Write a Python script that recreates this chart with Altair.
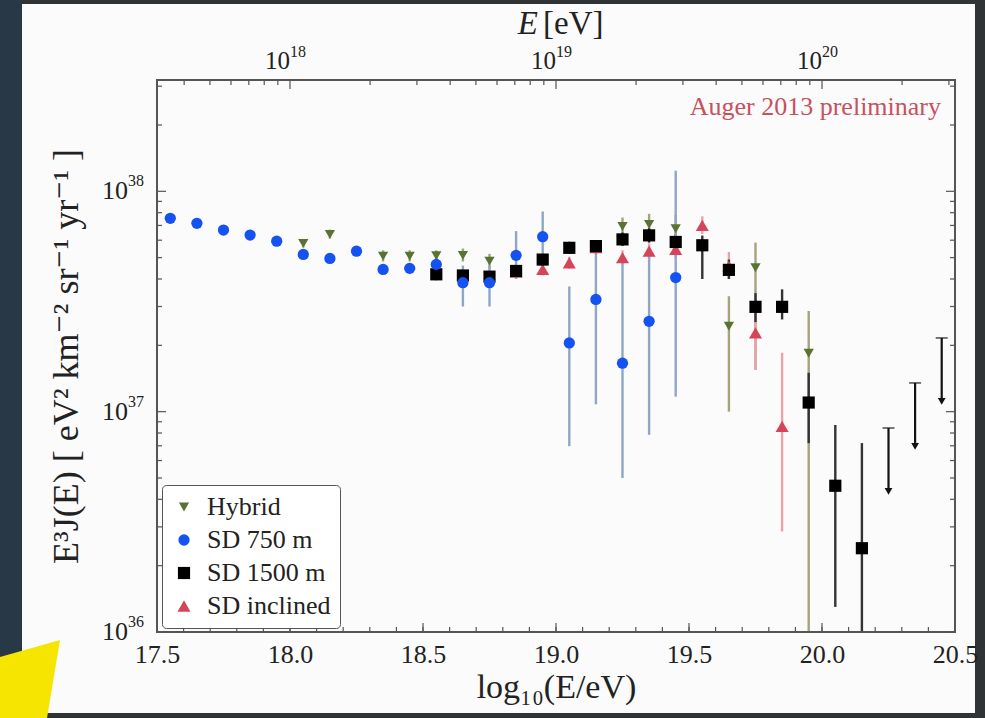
import math
import altair as alt
import pandas as pd

SERIF = "Liberation Serif, DejaVu Serif, serif"
INK = "#222222"

# ---------------- measured spectrum: log10(E/eV), E^3 J(E), lower/upper error bounds
hyb_x = [18.05, 18.15, 18.35, 18.45, 18.55, 18.65, 18.75, 19.25, 19.35, 19.45, 19.65, 19.75, 19.95]
hyb_y = [5.8e37, 6.38e37, 5.08e37, 5.08e37, 5.1e37, 5.12e37, 4.82e37, 6.92e37, 7.08e37, 6.76e37, 2.44e37, 4.5e37, 1.84e37]
hyb_lo = [5.55e37, 6.1e37, 4.8e37, 4.8e37, 4.8e37, 4.8e37, 4.45e37, 6.3e37, 6.4e37, 5.9e37, 1.0e37, 1.55e37, 5e35]
hyb_hi = [6.05e37, 6.7e37, 5.4e37, 5.4e37, 5.4e37, 5.5e37, 5.2e37, 7.6e37, 7.9e37, 7.8e37, 3.34e37, 5.85e37, 2.86e37]

sd750_x = [17.55, 17.65, 17.75, 17.85, 17.95, 18.05, 18.15, 18.25, 18.35, 18.45,
           18.55, 18.65, 18.75, 18.85, 18.95, 19.05, 19.15, 19.25, 19.35, 19.45]
sd750_y = [7.54e37, 7.16e37, 6.67e37, 6.33e37, 5.94e37, 5.17e37, 4.96e37, 5.35e37, 4.42e37, 4.47e37,
           4.66e37, 3.85e37, 3.85e37, 5.12e37, 6.22e37, 2.05e37, 3.23e37, 1.66e37, 2.57e37, 4.06e37]
sd750_lo = [7.35e37, 6.98e37, 6.5e37, 6.15e37, 5.77e37, 5.0e37, 4.78e37, 5.15e37, 4.2e37, 4.25e37,
            4.3e37, 3.0e37, 3.0e37, 4.0e37, 4.8e37, 6.97e36, 1.08e37, 5.0e36, 7.85e36, 1.17e37]
sd750_hi = [7.75e37, 7.35e37, 6.85e37, 6.5e37, 6.12e37, 5.35e37, 5.15e37, 5.55e37, 4.65e37, 4.7e37,
            5.1e37, 4.6e37, 4.6e37, 6.6e37, 8.1e37, 3.7e37, 5.45e37, 4.9e37, 5.4e37, 1.24e38]

sd1500_x = [18.55, 18.65, 18.75, 18.85, 18.95, 19.05, 19.15, 19.25, 19.35, 19.45,
            19.55, 19.65, 19.75, 19.85, 19.95, 20.05, 20.15]
sd1500_y = [4.2e37, 4.15e37, 4.1e37, 4.35e37, 4.9e37, 5.54e37, 5.64e37, 6.05e37, 6.31e37, 5.89e37,
            5.69e37, 4.4e37, 2.99e37, 2.99e37, 1.1e37, 4.61e36, 2.4e36]
sd1500_lo = [3.95e37, 3.9e37, 3.85e37, 4.1e37, 4.6e37, 5.2e37, 5.3e37, 5.65e37, 5.85e37, 5.4e37,
             4.0e37, 4.0e37, 2.55e37, 2.62e37, 7.2e36, 1.3e36, 5e35]
sd1500_hi = [4.45e37, 4.4e37, 4.35e37, 4.6e37, 5.2e37, 5.9e37, 6.0e37, 6.5e37, 6.8e37, 6.4e37,
             6.3e37, 4.9e37, 3.45e37, 3.59e37, 1.5e37, 8.7e36, 7.2e36]

incl_x = [18.85, 18.95, 19.05, 19.15, 19.25, 19.35, 19.45, 19.55, 19.65, 19.75, 19.85]
incl_y = [4.3e37, 4.42e37, 4.74e37, 5.55e37, 5.0e37, 5.35e37, 5.45e37, 7.0e37, 4.57e37, 2.28e37, 8.57e36]
incl_lo = [4.05e37, 4.15e37, 4.45e37, 5.2e37, 4.65e37, 4.95e37, 5.0e37, 6.4e37, 4.0e37, 1.55e37, 2.86e36]
incl_hi = [4.6e37, 4.7e37, 5.05e37, 5.9e37, 5.4e37, 5.8e37, 5.9e37, 7.7e37, 5.3e37, 2.9e37, 1.85e37]

# SD 1500 m upper limits at the highest energies
ul_x = [20.25, 20.35, 20.45]
ul_y = [8.43e36, 1.35e37, 2.16e37]

# ---------------- tick positions and labels
x_major = [17.5, 18.0, 18.5, 19.0, 19.5, 20.0, 20.5]
x_minor = [round(17.5 + 0.1 * i, 1) for i in range(31)]
y_major = [1e36, 1e37, 1e38]
y_exponents = ["36", "37", "38"]
y_minor = [m * 10.0 ** e for e in (36, 37, 38) for m in range(2, 10) if m * 10.0 ** e < 3.2e38]
top_major = [18, 19, 20]
top_exponents = ["18", "19", "20"]
top_minor = [e + math.log10(m) for e in (17, 18, 19, 20) for m in range(2, 10)
             if 17.5 < e + math.log10(m) < 20.5]

# ---------------- styling
series_names = ["Hybrid", "SD 750 m", "SD 1500 m", "SD inclined"]
marker_colors = ["#5a7232", "#1452f2", "#000000", "#d6445a"]
error_colors = ["#a4a37c", "#8fa6c6", "#333333", "#eba2a8"]
marker_shapes = ["triangle-down", "circle", "square", "triangle-up"]
marker_sizes = [105, 170, 155, 105]
ARROW_DROP = 1.94  # length of the upper-limit arrows, as a factor in E^3 J

W, H = 798, 552
MAJ, MIN = 9, 5

xscale = alt.Scale(domain=[17.5, 20.5], nice=False, zero=False)
yscale = alt.Scale(type="log", domain=[1e36, 3.2e38], nice=False)

xaxis = alt.Axis(values=x_major, format=".1f", title="log₁₀(E/eV)", tickSize=0, domain=False,
                 grid=False, labelFont=SERIF, labelFontSize=26, labelColor=INK, labelPadding=9,
                 labelFlush=False, labelOverlap=False,
                 titleFont=SERIF, titleFontSize=34, titleFontWeight="normal", titleColor=INK,
                 titlePadding=3, zindex=2)
yaxis = alt.Axis(values=y_major, labels=False,
                 title="E³J(E)  [ eV² km⁻² sr⁻¹ yr⁻¹ ]", tickSize=0, domain=False, grid=False,
                 titleFont=SERIF, titleFontSize=36, titleFontWeight="normal", titleColor=INK,
                 titlePadding=71, zindex=2)


def X(field):
    return alt.X(field, scale=xscale, axis=xaxis)


def Y(field):
    return alt.Y(field, scale=yscale, axis=yaxis)


def frame(name, xs, ys, lo, hi):
    return pd.DataFrame({"x": xs, "y": ys, "lo": lo, "hi": hi, "series": name})


frames = {
    "Hybrid": frame("Hybrid", hyb_x, hyb_y, hyb_lo, hyb_hi),
    "SD 750 m": frame("SD 750 m", sd750_x, sd750_y, sd750_lo, sd750_hi),
    "SD 1500 m": frame("SD 1500 m", sd1500_x, sd1500_y, sd1500_lo, sd1500_hi),
    "SD inclined": frame("SD inclined", incl_x, incl_y, incl_lo, incl_hi),
}

one = pd.DataFrame({"k": [0]})

# ---------------- slide backdrop
panel = alt.Chart(one).mark_rect(color="#fbfbfb").encode(
    x=alt.value(-135), x2=alt.value(818), y=alt.value(-76), y2=alt.value(633))
strip = alt.Chart(one).mark_rect(color="#293847").encode(
    x=alt.value(-157), x2=alt.value(-135), y=alt.value(-80), y2=alt.value(638))
wedge = alt.Chart(one).mark_point(
    shape="M-0.85,-0.525 L0.65,-0.95 L0.325,1 L-0.85,1 Z", filled=True, opacity=1,
    size=6400, color="#f6e500", strokeWidth=0).encode(x=alt.value(-123), y=alt.value(598))

# ---------------- error bars
draw_order = ["Hybrid", "SD inclined", "SD 1500 m", "SD 750 m"]
err_layers = []
for name in draw_order:
    c = error_colors[series_names.index(name)]
    err_layers.append(
        alt.Chart(frames[name]).mark_rule(color=c, strokeWidth=2.4, clip=True).encode(
            x=X("x:Q"), y=Y("lo:Q"), y2="hi:Q"))

# ---------------- markers
pts = pd.concat([frames[n] for n in draw_order], ignore_index=True)
legend = alt.Legend(title=None, orient="none", legendX=5, legendY=405, labelFont=SERIF,
                    labelFontSize=26, labelColor=INK, symbolSize=70, rowPadding=7, padding=9,
                    labelOffset=10, strokeColor="#555555", fillColor="#ffffff", cornerRadius=4,
                    symbolStrokeWidth=0, zindex=2)
points = alt.Chart(pts).mark_point(filled=True, opacity=1, strokeWidth=0).encode(
    x=X("x:Q"), y=Y("y:Q"),
    color=alt.Color("series:N", scale=alt.Scale(domain=series_names, range=marker_colors),
                    legend=legend),
    shape=alt.Shape("series:N", scale=alt.Scale(domain=series_names, range=marker_shapes),
                    legend=legend),
    size=alt.Size("series:N", scale=alt.Scale(domain=series_names, range=marker_sizes),
                  legend=None),
)

# ---------------- upper limits
ul = pd.DataFrame({"x": ul_x, "y": ul_y})
ul_base = alt.Chart(ul).transform_calculate(tip=f"datum.y / {ARROW_DROP}")
ul_line = ul_base.mark_rule(color="#111111", strokeWidth=2.2).encode(x=X("x:Q"), y=Y("y:Q"), y2="tip:Q")
ul_cap = ul_base.mark_tick(orient="horizontal", size=12, thickness=1.6, color="#111111").encode(
    x=X("x:Q"), y=Y("y:Q"))
ul_head = ul_base.mark_point(shape="triangle-down", filled=True, opacity=1, size=60,
                             color="#111111", strokeWidth=0).encode(x=X("x:Q"), y=Y("tip:Q"))

# ---------------- plot frame and inward ticks on all four sides
TICK = "#555555"
border = alt.Chart(one).mark_rect(fillOpacity=0, stroke="#555555", strokeWidth=2).encode(
    x=alt.value(0), x2=alt.value(W), y=alt.value(0), y2=alt.value(H))


def xticks(vals, length, top):
    df = pd.DataFrame({"pos": vals})
    y0, y1 = (0, length) if top else (H, H - length)
    return alt.Chart(df).mark_rule(color=TICK, strokeWidth=1.2).encode(
        x=X("pos:Q"), y=alt.value(y0), y2=alt.value(y1))


def yticks(vals, length, right):
    df = pd.DataFrame({"pos": vals})
    x0, x1 = (W, W - length) if right else (0, length)
    return alt.Chart(df).mark_rule(color=TICK, strokeWidth=1.2).encode(
        y=Y("pos:Q"), x=alt.value(x0), x2=alt.value(x1))


tick_layers = [
    xticks(x_major, MAJ, False), xticks(x_minor, MIN, False),
    xticks(top_major, MAJ, True), xticks(top_minor, MIN, True),
    yticks(y_major, MAJ, False), yticks(y_minor, MIN, False),
    yticks(y_major, MAJ, True), yticks(y_minor, MIN, True),
]

# ---------------- power-of-ten labels (mantissa plus raised exponent)
ylab = pd.DataFrame({"pos": y_major, "exp": y_exponents})
ylab_base = alt.Chart(ylab).mark_text(font=SERIF, fontSize=26, color=INK, align="right",
                                      baseline="middle").encode(
    y=Y("pos:Q"), x=alt.value(-29), text=alt.value("10"))
ylab_exp = alt.Chart(ylab).mark_text(font=SERIF, fontSize=16, color=INK, align="left",
                                     baseline="middle", dy=-10).encode(
    y=Y("pos:Q"), x=alt.value(-29), text="exp:N")

top_df = pd.DataFrame({"pos": top_major, "exp": top_exponents})
top_base = alt.Chart(top_df).mark_text(font=SERIF, fontSize=25, color=INK, align="right",
                                       baseline="middle").encode(
    x=X("pos:Q"), y=alt.value(-19), text=alt.value("10"))
top_exp = alt.Chart(top_df).mark_text(font=SERIF, fontSize=16, color=INK, align="left",
                                      baseline="middle", dy=-9).encode(
    x=X("pos:Q"), y=alt.value(-19), text="exp:N")

# top axis title: italic E followed by the unit
title_e = alt.Chart(pd.DataFrame({"t": ["E"]})).mark_text(
    font=SERIF, fontSize=33, fontStyle="italic", color=INK, align="right", baseline="middle").encode(
    x=alt.value(381), y=alt.value(-56), text="t:N")
title_unit = alt.Chart(pd.DataFrame({"t": ["[eV]"]})).mark_text(
    font=SERIF, fontSize=33, color=INK, align="left", baseline="middle").encode(
    x=alt.value(386), y=alt.value(-56), text="t:N")

note = alt.Chart(pd.DataFrame({"t": ["Auger 2013 preliminary"]})).mark_text(
    font=SERIF, fontSize=26, color="#c9505d", align="right", baseline="middle").encode(
    x=alt.value(784), y=alt.value(27), text="t:N")

chart = alt.layer(
    panel, strip, wedge, *err_layers, points, ul_line, ul_cap, ul_head, border, *tick_layers,
    ylab_base, ylab_exp, top_base, top_exp, title_e, title_unit, note,
).properties(
    width=W, height=H,
    padding={"left": 157, "top": 80, "right": 30, "bottom": 86},
    autosize=alt.AutoSizeParams(type="none"),
    background="#303336",
).configure_view(stroke=None)

chart.save("out.html", embed_options={"renderer": "svg", "actions": False})
